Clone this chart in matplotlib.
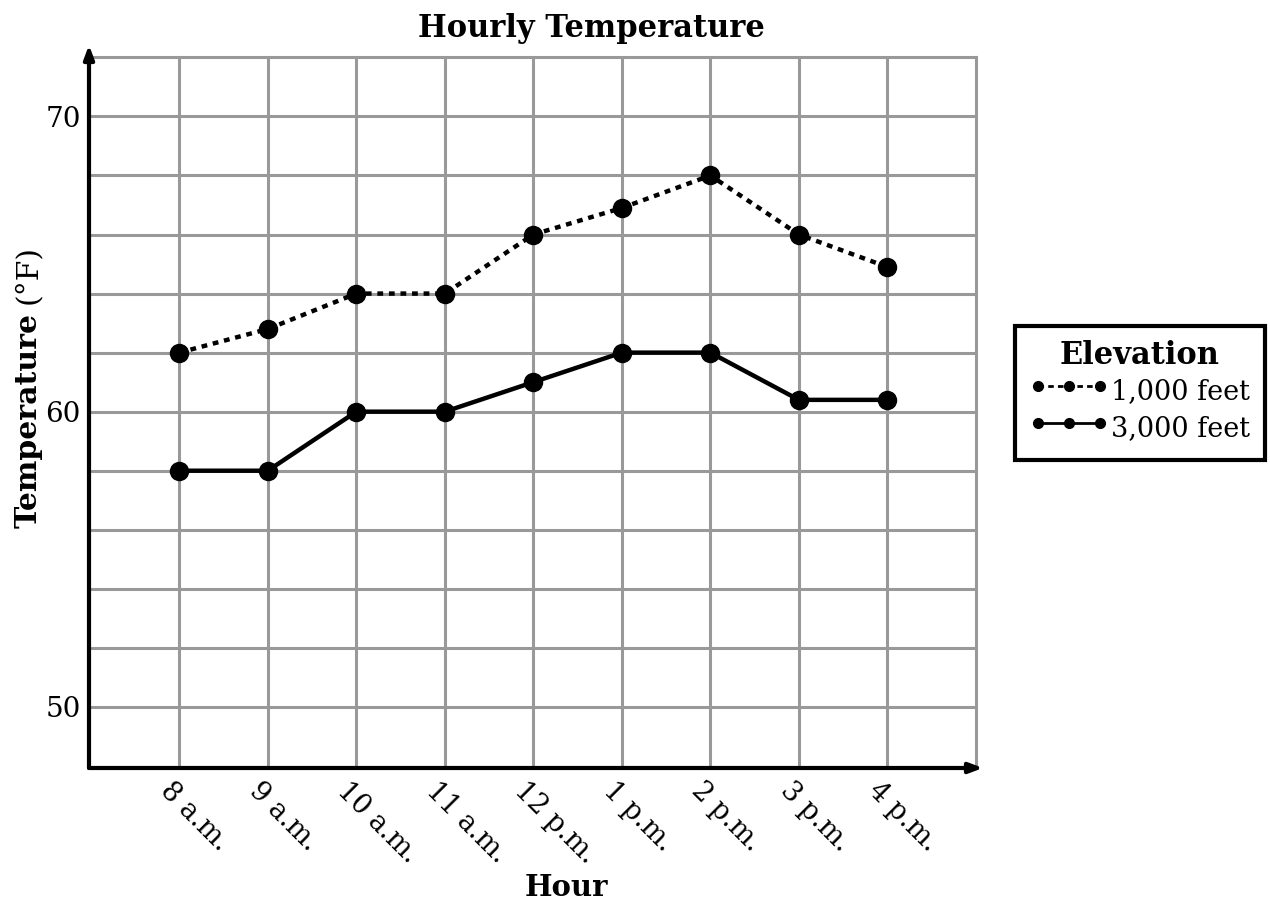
import matplotlib
matplotlib.use("Agg")
import matplotlib.pyplot as plt
from matplotlib.lines import Line2D

hours = ["8 a.m.", "9 a.m.", "10 a.m.", "11 a.m.", "12 p.m.", "1 p.m.", "2 p.m.", "3 p.m.", "4 p.m."]
temp_1000 = [62, 62.8, 64, 64, 66, 66.9, 68, 66, 64.9]
temp_3000 = [58, 58, 60, 60, 61, 62, 62, 60.4, 60.4]
y_ticks = [50, 60, 70]
y_grid = [48, 50, 52, 54, 56, 58, 60, 62, 64, 66, 68, 70, 72]
series_names = ["1,000 feet", "3,000 feet"]

plt.rcParams['font.family'] = ['DejaVu Serif']

fig = plt.figure(figsize=(12.7, 9.07), dpi=100)
ax = fig.add_axes([89/1270, 1-768/907, (983-89)/1270, (768-45)/907])

x = list(range(len(hours)))
xmax_grid = len(hours)  # 5 p.m. position
ax.set_xlim(-1.02, 9.08)
ax.set_ylim(47.93, 72.42)

grid_kw = dict(color="#999999", lw=2.2, zorder=1)
for yv in y_grid[1:]:
    ax.plot([-1.02, xmax_grid], [yv, yv], **grid_kw)
for xv in range(0, xmax_grid + 1):
    ax.plot([xv, xv], [47.93, 72], **grid_kw)

ax.plot(x, temp_1000, color="black", lw=3.2, linestyle=(0, (1.3, 1.3)),
        marker="o", markersize=13, zorder=3)
ax.plot(x, temp_3000, color="black", lw=3.2, linestyle="-",
        marker="o", markersize=13, zorder=3)

for s in ax.spines.values():
    s.set_visible(False)
ax.annotate("", xy=(0, 1), xytext=(0, 0), xycoords="axes fraction",
            arrowprops=dict(arrowstyle="-|>,head_length=0.8,head_width=0.3", lw=3, color="black",
                            shrinkA=0, shrinkB=0), zorder=5)
ax.annotate("", xy=(1, 0), xytext=(0, 0), xycoords="axes fraction",
            arrowprops=dict(arrowstyle="-|>,head_length=0.8,head_width=0.3", lw=3, color="black",
                            shrinkA=0, shrinkB=0), zorder=5)

ax.set_yticks(y_ticks)
ax.set_yticklabels([str(v) for v in y_ticks], fontsize=20)
ax.tick_params(axis="y", length=0, pad=6)
ax.set_xticks(x)
ax.set_xticklabels(hours, fontsize=19.5, rotation=-45, ha="left", va="top",
                   rotation_mode="anchor")
ax.tick_params(axis="x", length=0, pad=6)
for lab in ax.get_xticklabels():
    lab.set_transform(lab.get_transform() + matplotlib.transforms.ScaledTranslation(-5/100, -1/100, fig.dpi_scale_trans))

fig.text(591/1270, 1-28/907, "Hourly Temperature", fontsize=22, fontweight="bold",
         ha="center", va="center")
fig.text(566/1270, 1-887/907, "Hour", fontsize=21, fontweight="bold",
         ha="center", va="center")

t1 = fig.text(28/1270, 1-420/907, "Temperature", rotation=90, fontsize=21.5,
              fontweight="bold", ha="center", va="center")
ax.annotate("(°F)", xy=(0.5, 1), xycoords=t1, xytext=(0, 6), textcoords="offset points",
            rotation=90, fontsize=21.5, ha="center", va="bottom", annotation_clip=False)

handles = [
    Line2D([], [], color="black", lw=2, linestyle=(0, (2, 1.5)), marker="o", markersize=7),
    Line2D([], [], color="black", lw=2, linestyle="-", marker="o", markersize=7),
]
leg = fig.legend(handles, series_names, loc="center left",
                 bbox_to_anchor=(1015/1270, 1-393/907), numpoints=3,
                 fontsize=19.5, title="Elevation", title_fontproperties={"weight": "bold", "size": 22},
                 frameon=True, fancybox=False, edgecolor="black", framealpha=1,
                 handlelength=2.9, handleheight=1.65, handletextpad=0.1, borderpad=0.55,
                 labelspacing=0.05, borderaxespad=0)
leg.get_frame().set_linewidth(3)

fig.savefig("out.png", dpi=100)
